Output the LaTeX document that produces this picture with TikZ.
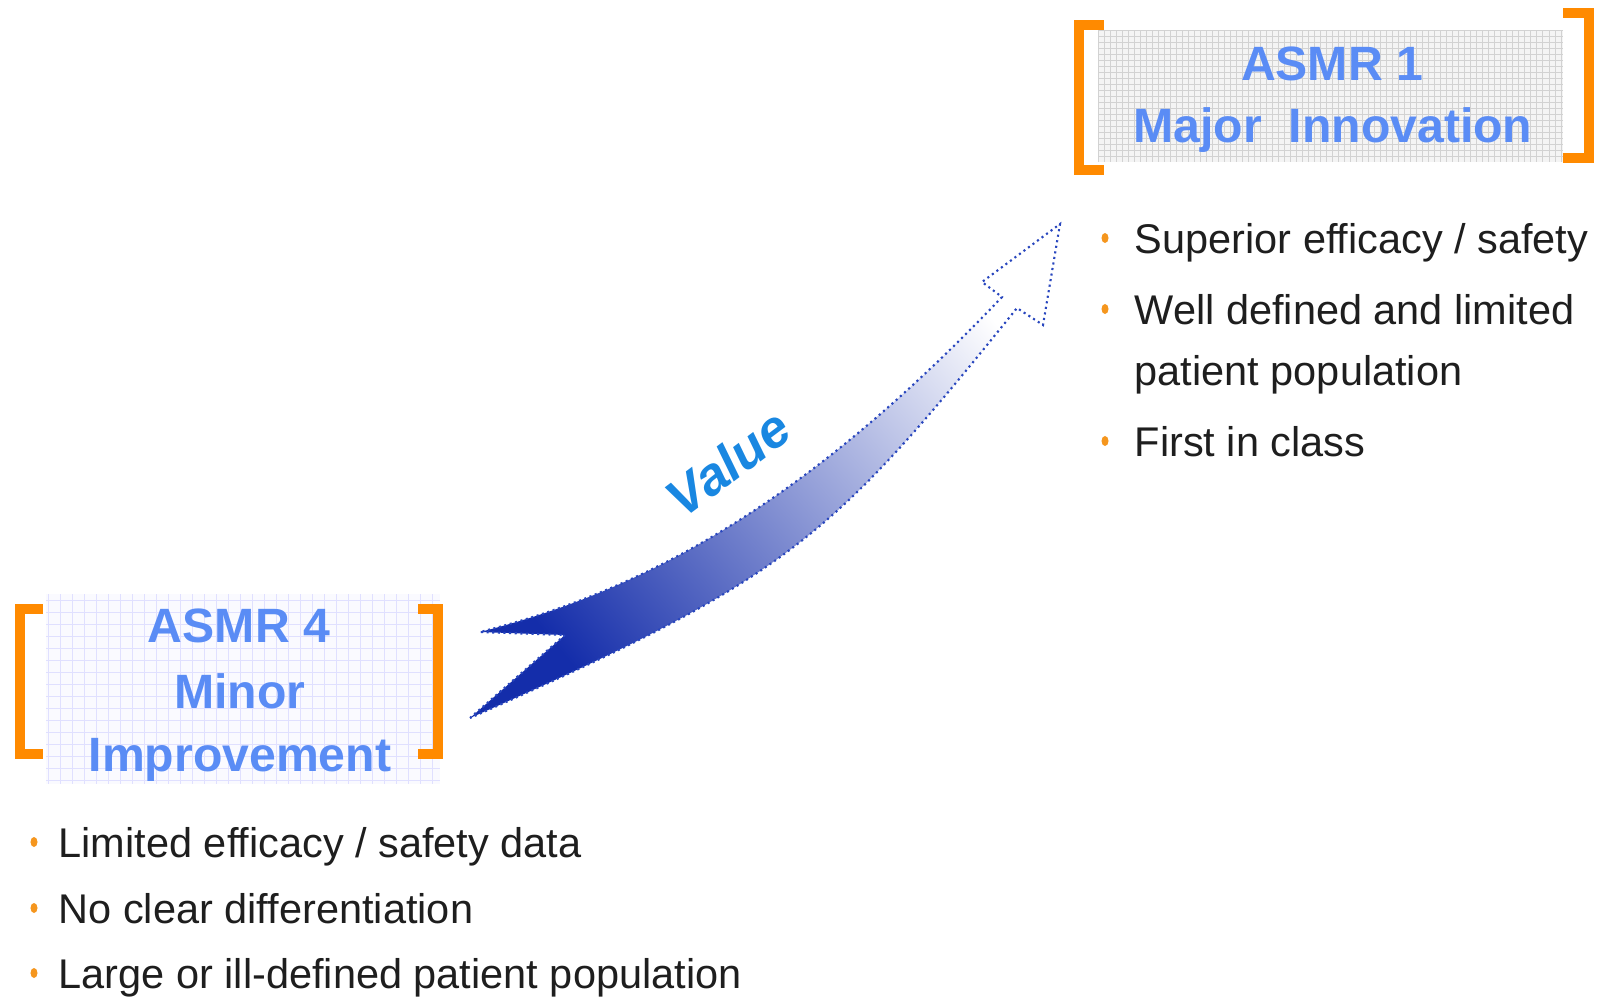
\documentclass[tikz,border=0pt]{standalone}
\usepackage{fontspec}
\setmainfont{Liberation Sans}
\usepackage{xcolor}
\usepackage{tikz}
\definecolor{titleblue}{RGB}{90,140,245}
\definecolor{bracketorange}{RGB}{255,138,0}
\definecolor{dotorange}{RGB}{245,150,30}
\definecolor{arrowdark}{RGB}{20,45,170}
\definecolor{arrowmid}{RGB}{150,165,225}
\definecolor{arrowline}{RGB}{40,70,190}
\definecolor{valueblue}{RGB}{25,135,225}
\definecolor{textgray}{RGB}{30,30,30}
\tikzset{
  asmrtitle/.style={font=\fontsize{13.7}{16}\selectfont\bfseries, text=titleblue, inner sep=0pt, anchor=base},
  bullettext/.style={font=\fontsize{11.8}{14}\selectfont, text=textgray, inner sep=0pt, anchor=base west},
  bracketline/.style={line width=1mm, bracketorange, miter limit=10},
  bulletdot/.style={fill=dotorange}
}

\begin{document}
\begin{tikzpicture}[x=0.01cm, y=-0.01cm]
\useasboundingbox (0,0) rectangle (1597,997);
% ASMR 1 box
\fill[gray!9] (1098,30) rectangle (1563,162);
\draw[gray!35, line width=0.2pt, step=0.06cm] (1098,162) grid (1563,30);
\draw[bracketline] (1104,25) -- (1079,25) -- (1079,170) -- (1104,170);
\draw[bracketline] (1563,13) -- (1589,13) -- (1589,158) -- (1563,158);
\node[asmrtitle] (asmr1) at (1332,81) {ASMR 1};
\node[asmrtitle] (major) at (1333,143) {Major\ \ Innovation};
% ASMR 4 box
\fill[blue!2] (46,594) rectangle (440,784);
\draw[blue!12, line width=0.2pt, step=0.12cm] (46,784) grid (440,594);
\draw[bracketline] (43,609) -- (20,609) -- (20,754) -- (43,754);
\draw[bracketline] (418,609) -- (438,609) -- (438,754) -- (418,754);
\node[asmrtitle] (asmr4) at (239,642) {ASMR 4};
\node[asmrtitle] (minor) at (240,708) {Minor};
\node[asmrtitle] (improve) at (240,771) {Improvement};
% bullets
\foreach \y in {253,324,456} \fill[bulletdot] (1105,\y-15) ellipse[x radius=0.035cm, y radius=0.05cm];
\foreach \y in {857,923,988} \fill[bulletdot] (34,\y-15) ellipse[x radius=0.035cm, y radius=0.05cm];
\node[bullettext] (superior) at (1134,253) {Superior efficacy / safety};
\node[bullettext] (welldef) at (1134,324) {Well defined and limited};
\node[bullettext] (patient) at (1134,385) {patient population};
\node[bullettext] (first) at (1134,456) {First in class};
\node[bullettext] (limited) at (58,857) {Limited efficacy / safety data};
\node[bullettext] (noclear) at (58,923) {No clear differentiation};
\node[bullettext] (large) at (58,988) {Large or ill-defined patient population};
% value arrow
\shadedraw[bottom color=arrowdark, middle color=arrowmid, top color=white, shading angle=-50,
  draw=arrowline, densely dotted, line width=0.6pt]
  (470,718) -- (565,635) -- (480,632) .. controls (666,585) and (823,485) .. (1002,297)
  -- (982,282) -- (1060,224) -- (1043,325) -- (1017,308)
  .. controls (830,540) and (790,577) .. (470,718) -- cycle;
\node[font=\fontsize{15}{18}\selectfont\bfseries\itshape, text=valueblue, rotate=37] (value) at (728,463) {Value};
\end{tikzpicture}
\end{document}
